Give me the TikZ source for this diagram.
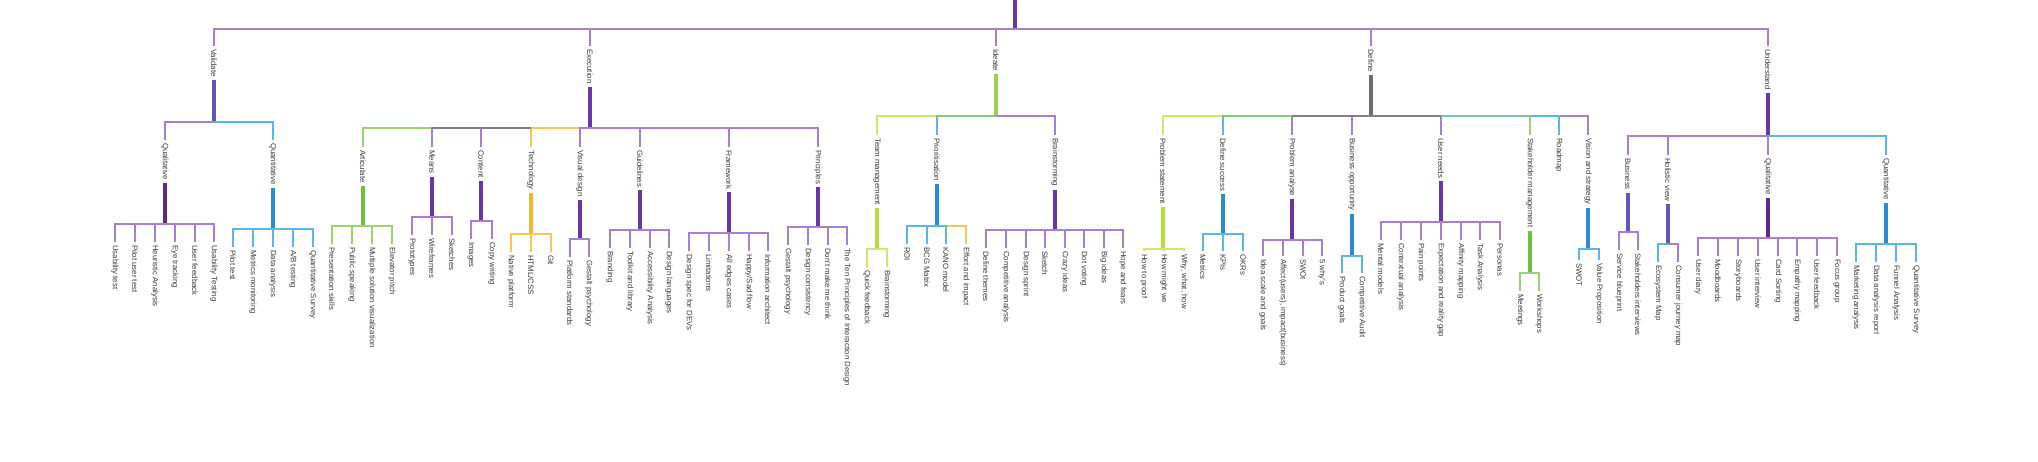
\documentclass[tikz,border=0pt]{standalone}
\usepackage{fontspec}
\setmainfont{Liberation Sans}
\definecolor{pl}{HTML}{A67ED2}
\definecolor{pd}{HTML}{6A35A5}
\definecolor{pdd}{HTML}{5B2A8E}
\definecolor{bl}{HTML}{5AB6EA}
\definecolor{bd}{HTML}{2A8AD6}
\definecolor{gl}{HTML}{9AD46E}
\definecolor{gd}{HTML}{6CC040}
\definecolor{yl}{HTML}{CDE86A}
\definecolor{yd}{HTML}{B5DE3C}
\definecolor{ol}{HTML}{F5C55A}
\definecolor{od}{HTML}{F0B830}
\definecolor{gr}{HTML}{6E6E6E}
\definecolor{gm}{HTML}{857A95}
\definecolor{gg}{HTML}{86C86A}
\definecolor{tg}{HTML}{78C4A8}
\definecolor{bp}{HTML}{5E55BE}
\definecolor{ig}{HTML}{9ED24E}
\definecolor{txt}{HTML}{3A3A3A}
\tikzset{
  lbl/.style={rotate=-90, anchor=west, inner xsep=3pt, inner ysep=1pt,
    font=\fontsize{7.8}{9}\selectfont, text=txt},
  th/.style={line width=1.8pt},
  tk/.style={line width=3.2pt},
}
% name, x, text top y, text, parent bar coordinate, colour
\newcommand{\kid}[6]{%
  \node[lbl] (#1) at (#2,#3-3) {#4};
  \draw[th,#6] (#5) -| (#1.west);
}
% name, x, bar y, colour
\newcommand{\thk}[4]{%
  \coordinate (#1b) at (#2,#3);
  \draw[tk,#4] (#1.east) -- (#1b);
}
% blended bar segment: from child a to child b along parent bar p
\newcommand{\seg}[4]{%
  \draw[th,#4] (#1.west |- #3) -- (#2.west |- #3);
}
\begin{document}
\begin{tikzpicture}[x=1pt,y=-1pt]
\useasboundingbox (0,0) rectangle (2038,462);
\coordinate (R) at (1015,0);
\coordinate (Rb) at (1015,29);
\draw[tk,pd] (R) -- (Rb);
% level 1
\kid{V}{214}{49}{Validate}{Rb}{pl}
\kid{E}{590}{49}{Execution}{Rb}{pl}
\kid{I}{996}{49}{Ideate}{Rb}{pl}
\kid{D}{1371}{49}{Define}{Rb}{pl}
\kid{U}{1768}{49}{Understand}{Rb}{pl}
\thk{V}{214}{122}{bp}
\thk{E}{590}{128}{pd}
\thk{I}{996}{116}{ig}
\thk{D}{1371}{116}{gr}
\thk{U}{1768}{136}{pd}
% ---------------- Validate
\kid{V1}{165}{143}{Qualitative}{Vb}{pl}
\kid{V2}{273}{143}{Quantitative}{Vb}{bl}
\thk{V1}{165}{224}{pdd}
\thk{V2}{273}{229}{bd}
\foreach \x/\t [count=\i] in {115/Usability test,135/Pilot user test,155/Heuristic Analysis,175/Eye tracking,195/User feedback,214/Usability Testing}
  {\kid{V1-\i}{\x}{245}{\t}{V1b}{pl}}
\foreach \x/\t [count=\i] in {233/Pilot test,253/Metrics monitoring,273/Data analysis,293/{A/B testing},313/Quantitative Survey}
  {\kid{V2-\i}{\x}{250}{\t}{V2b}{bl}}
% ---------------- Execution
\kid{E1}{363}{150}{Articulate}{Eb}{gl}
\kid{E2}{432}{150}{Means}{Eb}{pl}
\kid{E3}{481}{150}{Content}{Eb}{pl}
\kid{E4}{531}{150}{Technology}{Eb}{ol}
\kid{E5}{580}{150}{Visual design}{Eb}{pl}
\kid{E8}{818}{150}{Principles}{Eb}{pl}
\kid{E7}{729}{150}{Framework}{Eb}{pl}
\kid{E6}{640}{150}{Guidelines}{Eb}{pl}
\seg{E2}{E4}{Eb}{gm}
\thk{E1}{363}{226}{gd}
\thk{E2}{432}{217}{pd}
\thk{E3}{481}{221}{pd}
\thk{E4}{531}{234}{od}
\thk{E5}{580}{239}{pd}
\thk{E6}{640}{230}{pd}
\thk{E7}{729}{233}{pd}
\thk{E8}{818}{227}{pd}
\foreach \x/\t [count=\i] in {332/Presentation skills,352/Public speaking,372/Multiple solution visualization,392/Elevator pitch}
  {\kid{E1-\i}{\x}{247}{\t}{E1b}{gl}}
\foreach \x/\t [count=\i] in {412/Prototypes,432/Wireframes,452/Sketches}
  {\kid{E2-\i}{\x}{238}{\t}{E2b}{pl}}
\foreach \x/\t [count=\i] in {471/Images,492/Copy writing}
  {\kid{E3-\i}{\x}{242}{\t}{E3b}{pl}}
\foreach \x/\t [count=\i] in {511/Native platform,531/{HTML/CSS},551/Git}
  {\kid{E4-\i}{\x}{255}{\t}{E4b}{ol}}
\foreach \x/\t [count=\i] in {570/Platform standards,589/Gestalt psychology}
  {\kid{E5-\i}{\x}{260}{\t}{E5b}{pl}}
\foreach \x/\t [count=\i] in {610/Branding,630/Toolkit and library,650/Accessibility Analysis,669/Design languages}
  {\kid{E6-\i}{\x}{251}{\t}{E6b}{pl}}
\foreach \x/\t [count=\i] in {689/Design spec for DEVs,709/Limitations,729/All edges cases,749/{Happy/Sad flow},768/Information architect}
  {\kid{E7-\i}{\x}{254}{\t}{E7b}{pl}}
\foreach \x/\t [count=\i] in {788/Gestalt psychology,808/Design consistency,828/Don't make me think,847/The Ten Principles of Interaction Design}
  {\kid{E8-\i}{\x}{248}{\t}{E8b}{pl}}
% ---------------- Ideate
\kid{I1}{877}{138}{Team management}{Ib}{yl}
\kid{I2}{937}{138}{Prioritisation}{Ib}{bl}
\kid{I3}{1055}{138}{Brainstorming}{Ib}{pl}
\seg{I2}{I}{Ib}{gg}
\thk{I1}{877}{249}{yd}
\thk{I2}{937}{226}{bd}
\thk{I3}{1055}{230}{pd}
\foreach \x/\t [count=\i] in {867/Quick feedback,887/Brainstorming}
  {\kid{I1-\i}{\x}{270}{\t}{I1b}{yl}}
\kid{I2-1}{907}{247}{ROI}{I2b}{bl}
\kid{I2-2}{927}{247}{BCG Matrix}{I2b}{bl}
\kid{I2-4}{966}{247}{Effort and impact}{I2b}{ol}
\kid{I2-3}{946}{247}{KANO model}{I2b}{bl}
\foreach \x/\t [count=\i] in {986/Define themes,1006/Competitive analysis,1026/Design sprint,1045/Sketch,1065/Crazy ideas,1084/Dot voting,1104/Big ideas,1123/Hope and fears}
  {\kid{I3-\i}{\x}{251}{\t}{I3b}{pl}}
% ---------------- Define
\kid{D1}{1163}{138}{Problem statement}{Db}{yl}
\kid{D2}{1223}{138}{Define success}{Db}{bl}
\kid{D3}{1292}{138}{Problem analyse}{Db}{pl}
\kid{D4}{1352}{138}{Business opportunity}{Db}{pl}
\kid{D8}{1588}{138}{Vision and strategy}{Db}{pl}
\kid{D7}{1559}{138}{Roadmap}{Db}{bl}
\kid{D6}{1530}{138}{Stakeholder management}{Db}{gl}
\kid{D5}{1441}{138}{User needs}{Db}{pl}
\seg{D2}{D3}{Db}{gg}
\seg{D3}{D5}{Db}{gm}
\seg{D5}{D6}{Db}{tg}
\thk{D1}{1163}{249}{yd}
\thk{D2}{1223}{234}{bd}
\thk{D3}{1292}{240}{pd}
\thk{D4}{1352}{256}{bd}
\thk{D5}{1441}{222}{pd}
\thk{D6}{1530}{273}{gd}
\thk{D8}{1588}{249}{bd}
\foreach \x/\t [count=\i] in {1144/How to proof,1164/How might we,1184/{Why, what, how}}
  {\kid{D1-\i}{\x}{254}{\t}{D1b}{yl}}
\foreach \x/\t [count=\i] in {1203/Metrics,1223/KPIs,1243/OKRs}
  {\kid{D2-\i}{\x}{254}{\t}{D2b}{bl}}
\foreach \x/\t [count=\i] in {1263/Idea scale and goals,1283/{Affect(users), impact(business)},1303/SWOt,1322/5 why's}
  {\kid{D3-\i}{\x}{259}{\t}{D3b}{pl}}
\foreach \x/\t [count=\i] in {1342/Product goals,1362/Competitive Audit}
  {\kid{D4-\i}{\x}{276}{\t}{D4b}{bl}}
\foreach \x/\t [count=\i] in {1381/Mental models,1401/Contextual analysis,1421/Pain points,1441/Expectation and reality gap,1461/Affinity mapping,1480/Task Analysis,1500/Personas}
  {\kid{D5-\i}{\x}{243}{\t}{D5b}{pl}}
\foreach \x/\t [count=\i] in {1520/Meetings,1539/Workshops}
  {\kid{D6-\i}{\x}{294}{\t}{D6b}{gl}}
\foreach \x/\t [count=\i] in {1579/SWOT,1599/Value Proposition}
  {\kid{D8-\i}{\x}{263}{\t}{D8b}{bl}}
% ---------------- Understand
\kid{U1}{1628}{158}{Business}{Ub}{pl}
\kid{U2}{1668}{158}{Holistic view}{Ub}{pl}
\kid{U3}{1768}{158}{Qualitative}{Ub}{pl}
\kid{U4}{1886}{158}{Quantitative}{Ub}{bl}
\thk{U1}{1628}{232}{bp}
\thk{U2}{1668}{244}{bp}
\thk{U3}{1768}{238}{pdd}
\thk{U4}{1886}{244}{bd}
\foreach \x/\t [count=\i] in {1619/Service blueprint,1638/Stakeholders interviews}
  {\kid{U1-\i}{\x}{253}{\t}{U1b}{pl}}
\kid{U2-1}{1658}{265}{Ecosystem Map}{U2b}{bl}
\kid{U2-2}{1678}{265}{Consumer journey map}{U2b}{pl}
\foreach \x/\t [count=\i] in {1698/User diary,1718/Moodboards,1738/Storyboards,1758/User interview,1778/Card Sorting,1797/Empathy mapping,1817/User feedback,1837/Focus group}
  {\kid{U3-\i}{\x}{259}{\t}{U3b}{pl}}
\foreach \x/\t [count=\i] in {1856/Marketing analysis,1876/Data analysis report,1896/Funnel Analysis,1916/Quantitative Survey}
  {\kid{U4-\i}{\x}{265}{\t}{U4b}{bl}}
\end{tikzpicture}
\end{document}
